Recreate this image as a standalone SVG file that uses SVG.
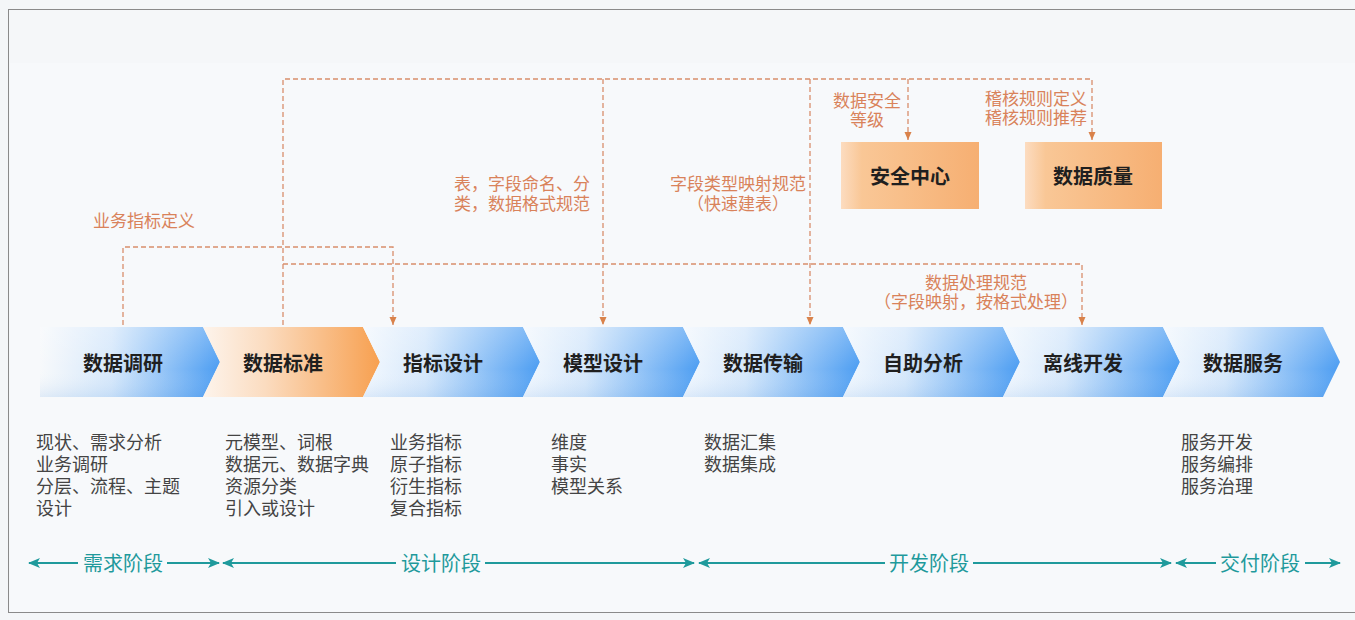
<svg xmlns="http://www.w3.org/2000/svg" width="1355" height="620" viewBox="0 0 1355 620">
<defs>
<style>
.cn{font-family:"Noto Sans CJK SC","Noto Sans",sans-serif}
.cl{font-family:"Liberation Sans","Noto Sans CJK SC",sans-serif}
.chev-t{font-size:20px;font-weight:bold;fill:#1f1f1f;text-anchor:middle;dominant-baseline:central}
.box-t{font-size:20px;font-weight:bold;fill:#1f1f1f;text-anchor:middle;dominant-baseline:central}
.lbl{font-size:17px;fill:#d9825a;dominant-baseline:central}
.lst{font-size:18px;fill:#444;dominant-baseline:central}
.ph{font-size:20px;fill:#1f9a9c;text-anchor:middle;dominant-baseline:central}
.dash{fill:none;stroke:#d98e6c;stroke-width:1.3;stroke-dasharray:5 3}
.phl{fill:none;stroke:#1f9a9c;stroke-width:2}
</style>
<linearGradient id="gBlue" x1="0" y1="0" x2="1" y2="0">
<stop offset="0" stop-color="#f3f8fe"/>
<stop offset="0.35" stop-color="#d6e8fb"/>
<stop offset="1" stop-color="#4c9df2"/>
</linearGradient>
<linearGradient id="gBlue0" x1="0" y1="0" x2="1" y2="0">
<stop offset="0" stop-color="#f7f9fb"/>
<stop offset="0.4" stop-color="#d6e8fb"/>
<stop offset="1" stop-color="#4c9df2"/>
</linearGradient>
<linearGradient id="gOrange" x1="0" y1="0" x2="1" y2="0">
<stop offset="0" stop-color="#fdf4ec"/>
<stop offset="0.35" stop-color="#fbdcc0"/>
<stop offset="1" stop-color="#f7a050"/>
</linearGradient>
<linearGradient id="gShade" x1="0" y1="0" x2="0" y2="1">
<stop offset="0" stop-color="#ffffff" stop-opacity="0.25"/>
<stop offset="0.6" stop-color="#ffffff" stop-opacity="0"/>
<stop offset="1" stop-color="#3a86d8" stop-opacity="0.12"/>
</linearGradient>
<linearGradient id="gBox" x1="0" y1="0" x2="1" y2="0">
<stop offset="0" stop-color="#fcdcc0"/>
<stop offset="0.15" stop-color="#f9c796"/>
<stop offset="1" stop-color="#f6af72"/>
</linearGradient>
<marker id="mDash" viewBox="0 0 8 8" refX="8" refY="4" markerWidth="8" markerHeight="8" markerUnits="userSpaceOnUse" orient="auto">
<path d="M0,0.5 L8,4 L0,7.5 Z" fill="#d9824a"/>
</marker>
<marker id="mPh" viewBox="0 0 12 10" refX="11" refY="5" markerWidth="12" markerHeight="10" markerUnits="userSpaceOnUse" orient="auto-start-reverse">
<path d="M0,0 L12,5 L0,10 L3,5 Z" fill="#1f9a9c"/>
</marker>
</defs>

<rect x="0" y="0" width="1355" height="620" fill="#f4f6f8"/>
<rect x="8.5" y="9.5" width="1350" height="603" fill="#f5f7f9" stroke="#8a8a8a" stroke-width="1"/>
<rect x="10" y="63" width="1345" height="549" fill="#f7f9fb"/>

<g id="connectors">
<path class="dash" d="M283,325 V79 H1092 V140" marker-end="url(#mDash)"/>
<path class="dash" d="M908,79 V140" marker-end="url(#mDash)"/>
<path class="dash" d="M603,79 V325" marker-end="url(#mDash)"/>
<path class="dash" d="M810,79 V325" marker-end="url(#mDash)"/>
<path class="dash" d="M123,325 V247 H393 V325" marker-end="url(#mDash)"/>
<path class="dash" d="M283,264 H1082 V325" marker-end="url(#mDash)"/>
</g>

<g id="labels" class="cl">
<text class="lbl" x="144" y="221" text-anchor="middle">业务指标定义</text>
<text class="lbl" x="590" y="184" text-anchor="end">表，字段命名、分</text>
<text class="lbl" x="590" y="204" text-anchor="end">类，数据格式规范</text>
<text class="lbl" x="738" y="184" text-anchor="middle">字段类型映射规范</text>
<text class="lbl" x="738" y="204" text-anchor="middle">（快速建表）</text>
<text class="lbl" x="867" y="101" text-anchor="middle">数据安全</text>
<text class="lbl" x="867" y="120" text-anchor="middle">等级</text>
<text class="lbl" x="1087" y="99" text-anchor="end">稽核规则定义</text>
<text class="lbl" x="1087" y="118" text-anchor="end">稽核规则推荐</text>
<text class="lbl" x="976" y="283" text-anchor="middle">数据处理规范</text>
<text class="lbl" x="976" y="302" text-anchor="middle">（字段映射，按格式处理）</text>
</g>

<g id="node-security">
<rect x="841" y="142" width="138" height="67" fill="url(#gBox)"/>
<text class="cn box-t" x="910" y="175">安全中心</text>
</g>
<g id="node-quality">
<rect x="1025" y="142" width="137" height="67" fill="url(#gBox)"/>
<text class="cn box-t" x="1093" y="175">数据质量</text>
</g>

<g id="node-research">
<path d="M40,327 H203 L220,362 L203,397 H40 Z" fill="url(#gBlue0)"/>
<path d="M40,327 H203 L220,362 L203,397 H40 Z" fill="url(#gShade)"/>
<text class="cn chev-t" x="123" y="362">数据调研</text>
</g>
<g id="node-standard">
<path d="M203,327 H363 L380,362 L363,397 H203 L220,362 Z" fill="url(#gOrange)"/>
<text class="cn chev-t" x="283" y="362">数据标准</text>
</g>
<g id="node-metric">
<path d="M363,327 H523 L540,362 L523,397 H363 L380,362 Z" fill="url(#gBlue)"/>
<path d="M363,327 H523 L540,362 L523,397 H363 L380,362 Z" fill="url(#gShade)"/>
<text class="cn chev-t" x="443" y="362">指标设计</text>
</g>
<g id="node-model">
<path d="M523,327 H683 L700,362 L683,397 H523 L540,362 Z" fill="url(#gBlue)"/>
<path d="M523,327 H683 L700,362 L683,397 H523 L540,362 Z" fill="url(#gShade)"/>
<text class="cn chev-t" x="603" y="362">模型设计</text>
</g>
<g id="node-transfer">
<path d="M683,327 H843 L860,362 L843,397 H683 L700,362 Z" fill="url(#gBlue)"/>
<path d="M683,327 H843 L860,362 L843,397 H683 L700,362 Z" fill="url(#gShade)"/>
<text class="cn chev-t" x="763" y="362">数据传输</text>
</g>
<g id="node-analysis">
<path d="M843,327 H1003 L1020,362 L1003,397 H843 L860,362 Z" fill="url(#gBlue)"/>
<path d="M843,327 H1003 L1020,362 L1003,397 H843 L860,362 Z" fill="url(#gShade)"/>
<text class="cn chev-t" x="923" y="362">自助分析</text>
</g>
<g id="node-offline">
<path d="M1003,327 H1163 L1180,362 L1163,397 H1003 L1020,362 Z" fill="url(#gBlue)"/>
<path d="M1003,327 H1163 L1180,362 L1163,397 H1003 L1020,362 Z" fill="url(#gShade)"/>
<text class="cn chev-t" x="1083" y="362">离线开发</text>
</g>
<g id="node-service">
<path d="M1163,327 H1323 L1340,362 L1323,397 H1163 L1180,362 Z" fill="url(#gBlue)"/>
<path d="M1163,327 H1323 L1340,362 L1323,397 H1163 L1180,362 Z" fill="url(#gShade)"/>
<text class="cn chev-t" x="1243" y="362">数据服务</text>
</g>

<g id="lists" class="cl">
<text class="lst" x="36" y="443">现状、需求分析</text>
<text class="lst" x="36" y="465">业务调研</text>
<text class="lst" x="36" y="487">分层、流程、主题</text>
<text class="lst" x="36" y="509">设计</text>
<text class="lst" x="225" y="443">元模型、词根</text>
<text class="lst" x="225" y="465">数据元、数据字典</text>
<text class="lst" x="225" y="487">资源分类</text>
<text class="lst" x="225" y="509">引入或设计</text>
<text class="lst" x="390" y="443">业务指标</text>
<text class="lst" x="390" y="465">原子指标</text>
<text class="lst" x="390" y="487">衍生指标</text>
<text class="lst" x="390" y="509">复合指标</text>
<text class="lst" x="551" y="443">维度</text>
<text class="lst" x="551" y="465">事实</text>
<text class="lst" x="551" y="487">模型关系</text>
<text class="lst" x="704" y="443">数据汇集</text>
<text class="lst" x="704" y="465">数据集成</text>
<text class="lst" x="1181" y="443">服务开发</text>
<text class="lst" x="1181" y="465">服务编排</text>
<text class="lst" x="1181" y="487">服务治理</text>
</g>

<g id="phases">
<path class="phl" d="M78,563 H29" marker-end="url(#mPh)"/>
<path class="phl" d="M167,563 H219" marker-end="url(#mPh)"/>
<text class="cn ph" x="123" y="562">需求阶段</text>
<path class="phl" d="M396,563 H223" marker-end="url(#mPh)"/>
<path class="phl" d="M485,563 H694" marker-end="url(#mPh)"/>
<text class="cn ph" x="441" y="562">设计阶段</text>
<path class="phl" d="M885,563 H699" marker-end="url(#mPh)"/>
<path class="phl" d="M973,563 H1171" marker-end="url(#mPh)"/>
<text class="cn ph" x="929" y="562">开发阶段</text>
<path class="phl" d="M1216,563 H1176" marker-end="url(#mPh)"/>
<path class="phl" d="M1305,563 H1340" marker-end="url(#mPh)"/>
<text class="cn ph" x="1260" y="562">交付阶段</text>
</g>
</svg>
